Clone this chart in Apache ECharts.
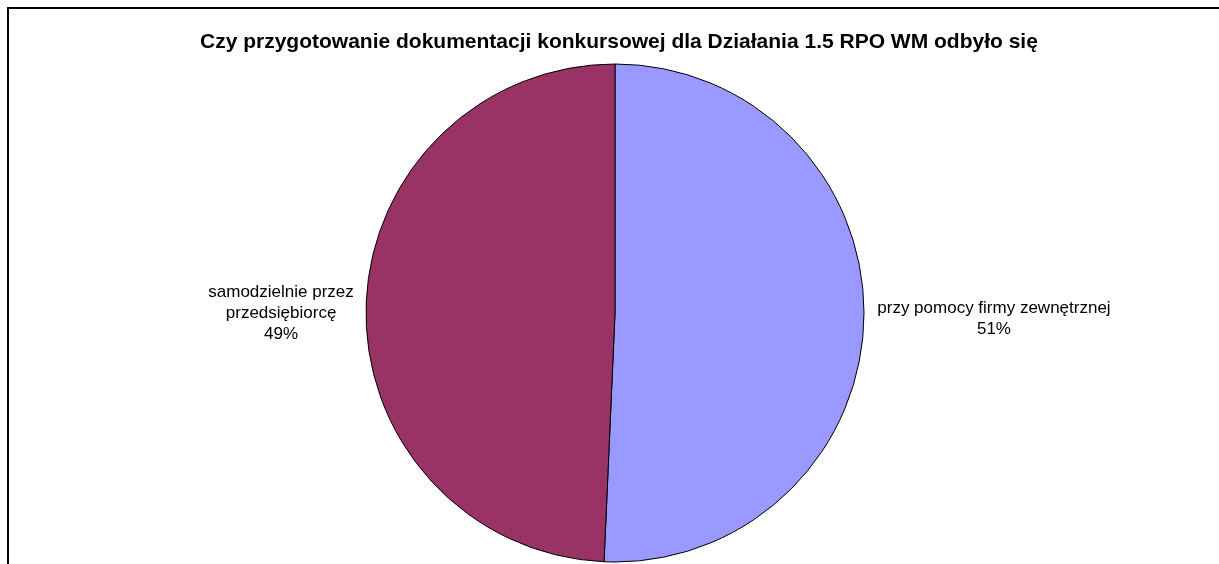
<!DOCTYPE html>
<html>
<head>
<meta charset="utf-8">
<script src="https://cdn.jsdelivr.net/npm/echarts@6/dist/echarts.min.js"></script>
<style>
  html, body { margin: 0; padding: 0; background: #fff; }
  #box { width: 1219px; height: 564px; }
</style>
</head>
<body>
<div id="box"></div>
<script>
var titleText = 'Czy przygotowanie dokumentacji konkursowej dla Działania 1.5 RPO WM odbyło się'
var categories = ['przy pomocy firmy zewnętrznej', 'samodzielnie przez\nprzedsiębiorcę']
var shares = [50.7, 49.3]
var colors = ['#9999FF', '#993366']

var chart = echarts.init(document.getElementById('box'))

// label box widths so each line is centred like in the original
var labelWidths = [240, 150]
var labelPads = [[0, 0, 0, 0], [12, 0, 0, 0]]

chart.setOption({
    animation: false,
    title: {
        text: titleText,
        left: 195,
        top: 27,
        textStyle: {
            fontFamily: 'Liberation Sans, Arial, sans-serif',
            fontSize: 21,
            fontWeight: 'bold',
            color: '#000'
        }
    },
    graphic: [{
        type: 'polyline',
        shape: { points: [[8, 700], [8, 8], [1300, 8]] },
        style: { stroke: '#000', lineWidth: 2, fill: null }
    }],
    series: [{
        type: 'pie',
        center: [615, 313],
        radius: 249,
        startAngle: 90,
        clockwise: true,
        data: categories.map(function (name, i) {
            return {
                name: name,
                value: shares[i],
                itemStyle: { color: colors[i] },
                label: {
                    padding: labelPads[i],
                    rich: { t: { width: labelWidths[i], align: 'center' } }
                }
            }
        }),
        itemStyle: { borderColor: '#000', borderWidth: 1 },
        label: {
            position: 'outside',
            formatter: function (p) {
                return p.name.split('\n').concat(Math.round(p.percent) + '%')
                    .map(function (s) { return '{t|' + s + '}' }).join('\n')
            },
            fontFamily: 'Liberation Sans, Arial, sans-serif',
            fontSize: 17,
            lineHeight: 21,
            color: '#000',
            rich: {
                t: {
                    fontFamily: 'Liberation Sans, Arial, sans-serif',
                    fontSize: 17,
                    lineHeight: 21,
                    color: '#000',
                    align: 'center'
                }
            }
        },
        labelLine: { show: false, length: 2, length2: 3 },
        emphasis: { disabled: true }
    }]
})
</script>
</body>
</html>
